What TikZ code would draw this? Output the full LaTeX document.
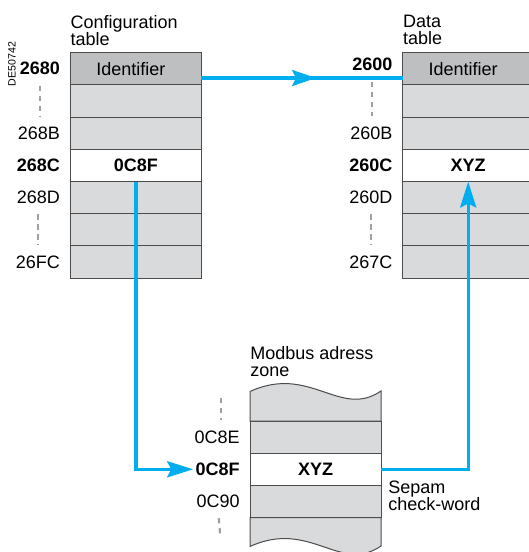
\documentclass[tikz,border=0pt]{standalone}
\usepackage{fontspec}
\setmainfont{Liberation Sans}
\usetikzlibrary{positioning,arrows.meta,decorations.markings}
\definecolor{LinkBlue}{RGB}{0,174,239}
\definecolor{RowGray}{RGB}{217,218,220}
\definecolor{HeadGray}{RGB}{190,191,193}
\definecolor{DashGray}{RGB}{160,160,160}

\begin{document}
\begin{tikzpicture}[x=0.5pt,y=-0.5pt,node distance=0pt,
  every node/.style={font=\fontsize{9}{8.6}\selectfont},
  row/.style={draw=black!70,line width=0.5pt,fill=RowGray,minimum width=65.5pt,minimum height=16.1pt,inner sep=0pt,outer sep=0pt},
  headrow/.style={row,fill=HeadGray},
  keyrow/.style={row,fill=white,font=\fontsize{9}{8.6}\selectfont\bfseries},
  addr/.style={inner sep=1pt},
  addrkey/.style={addr,font=\fontsize{9}{8.6}\selectfont\bfseries},
  title/.style={align=left,inner sep=0pt,anchor=north west},
  addrdash/.style={DashGray,line width=1.1pt,dash pattern=on 2.6pt off 2.4pt,shorten <=4pt,shorten >=4pt},
  link/.style={LinkBlue,line width=1.7pt},
  linkarrow/.style={-{Stealth[length=13pt,width=8pt,inset=2pt]}}]
\useasboundingbox (0,0) rectangle (529,552);
\clip (0,0) rectangle (529,552);

% configuration table
\node[headrow] (c1) at (135.8,68.8) {\hspace*{-5pt}Identifier};
\node[row,below=of c1] (c2) {};
\node[row,below=of c2] (c3) {};
\node[keyrow,below=of c3] (c4) {0C8F};
\node[row,below=of c4] (c5) {};
\node[row,below=of c5] (c6) {};
\node[row,below=of c6] (c7) {};
\node[title] (ctitle) at ([yshift=19pt]c1.north west) {Configuration\\table};
\node[addrkey,left=4pt of c1] (a2680) {2680};
\node[addr,left=4pt of c3] (a268B) {268B};
\node[addrkey,left=4pt of c4] (a268C) {268C};
\node[addr,left=4pt of c5] (a268D) {268D};
\node[addr,left=4pt of c7] (a26FC) {26FC};
\draw[addrdash] (a2680.south) -- (a2680.south |- a268B.north);
\draw[addrdash] (a268D.south) -- (a268D.south |- a26FC.north);
\node[rotate=90,inner sep=0pt,font=\fontsize{5.3}{6}\selectfont] (ref) at (12,64) {DE50742};

% data table
\node[headrow] (d1) at (468.2,68.8) {\hspace*{-5pt}Identifier};
\node[row,below=of d1] (d2) {};
\node[row,below=of d2] (d3) {};
\node[keyrow,below=of d3] (d4) {XYZ};
\node[row,below=of d4] (d5) {};
\node[row,below=of d5] (d6) {};
\node[row,below=of d6] (d7) {};
\node[title] (dtitle) at ([yshift=19pt]d1.north west) {Data\\table};
\node[addrkey,left=4pt of d1,yshift=2pt] (a2600) {2600};
\node[addr,left=4pt of d3] (a260B) {260B};
\node[addrkey,left=4pt of d4] (a260C) {260C};
\node[addr,left=4pt of d5] (a260D) {260D};
\node[addr,left=4pt of d7] (a267C) {267C};
\draw[addrdash] (a2600.south) -- (a2600.south |- a260B.north);
\draw[addrdash] (a260D.south) -- (a260D.south |- a267C.north);

% modbus zone
\node[row] (m1) at (315.5,437.1) {};
\node[keyrow,below=of m1] (m2) {XYZ};
\node[row,below=of m2] (m3) {};
\filldraw[draw=black!70,line width=0.5pt,fill=RowGray] (m1.north west) -- (250,391.5)
  .. controls (310,364) and (340,419) .. (381,391) -- (m1.north east) -- cycle;
\filldraw[draw=black!70,line width=0.5pt,fill=RowGray] (m3.south west) -- (250,546.5)
  .. controls (310,519) and (340,574) .. (381,546) -- (m3.south east) -- cycle;
\node[title] (mtitle) at ([yshift=37.5pt]m1.north west) {Modbus adress\\zone};
\node[addr,left=4pt of m1] (a0C8E) {0C8E};
\node[addrkey,left=4pt of m2] (a0C8F) {0C8F};
\node[addr,left=4pt of m3] (a0C90) {0C90};
\coordinate (mtop) at (221,390);
\coordinate (mbot) at (221,545);
\draw[addrdash] (mtop) -- (mtop |- a0C8E.north);
\draw[addrdash] (a0C90.south) -- (mbot);
\node[title] (sepam) at ([xshift=3.5pt,yshift=2.5pt]m2.south east) {Sepam\\check-word};

% links
\draw[link,postaction={decorate},decoration={markings,mark=at position 0.57 with {\arrow{Stealth[length=12pt,width=8pt,inset=2pt]}}}]
  ([yshift=-4.6pt]c1.east) -- ([yshift=-4.6pt]d1.west);
\draw[link,linkarrow] (c4.south) |- (a0C8F.west);
\draw[link,linkarrow] (m2.east) -| (d4.south);
\end{tikzpicture}
\end{document}
